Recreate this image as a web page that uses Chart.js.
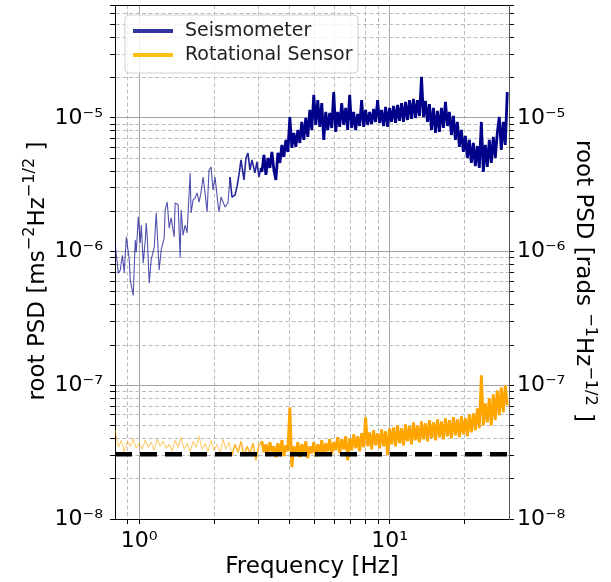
<!DOCTYPE html>
<html><head><meta charset="utf-8">
<script src="https://cdn.jsdelivr.net/npm/chart.js@4.4.1/dist/chart.umd.min.js"></script>
<style>html,body{margin:0;padding:0;background:#fff;}canvas{display:block;}</style>
</head><body>
<canvas id="c" width="611" height="582"></canvas>
<script>
// ---------------- data ----------------
const seriesLabels = ['Seismometer', 'Rotational Sensor'];

const seisFreq = [
 0.802,0.825,0.840,0.856,0.871,0.888,0.912,0.921,0.946,0.964,0.973,0.991,1.009,1.019,1.037,1.057,1.066,1.076,1.096,1.116,
 1.148,1.169,1.201,1.224,1.258,1.269,1.293,1.317,1.341,1.378,1.391,1.430,1.457,1.470,1.497,1.525,1.553,1.597,1.611,1.641,
 1.671,1.702,1.734,1.766,1.799,1.832,1.866,1.900,1.936,1.971,2.008,2.064,2.084,2.122,2.161,2.201,2.262,2.304,2.347,2.413,
 2.457,2.502,2.549,2.620,2.669,2.718,2.768,2.820,2.898,2.952,3.007,3.063,
 3.091,3.148,3.206,3.266,3.326,3.388,3.450,3.514,3.579,3.646,3.713,3.782,3.852,3.923,3.996,4.070,4.145,4.222,4.300,4.380,
 4.461,4.543,4.628,4.713,4.801,4.889,4.980,5.072,5.166,5.262,5.359,5.458,5.559,5.662,5.767,5.874,5.982,6.093,6.206,6.321,
 6.438,6.557,6.678,6.802,6.928,7.056,7.187,7.320,7.455,7.593,7.734,7.877,8.023,8.172,8.323,8.477,8.634,8.794,8.957,9.123,
 9.292,9.464,9.639,9.818,10.0,10.185,10.374,10.566,10.762,10.961,11.164,11.371,11.581,11.796,12.014,12.237,12.463,12.694,12.929,13.169,
 13.413,13.661,13.914,14.172,14.434,14.702,14.974,15.251,15.534,15.821,16.114,16.413,16.717,17.026,17.342,17.663,17.990,18.323,18.662,19.008,
 19.360,19.718,20.084,20.456,20.834,21.220,21.613,22.013,22.421,22.836,23.259,23.690,24.129,24.575,25.030,25.494,25.966,26.447,26.937,27.436,
 27.944,28.461,28.988,29.525
];
const seisVal = [
 1.12e-6,6.9e-7,7.3e-7,9.4e-7,7.0e-7,1.29e-6,8.7e-7,6.1e-7,4.7e-7,1.22e-6,9.9e-7,1.82e-6,1.16e-6,1.58e-6,8.2e-7,1.22e-6,1.64e-6,1.29e-6,5.8e-7,8.7e-7,
 1.08e-6,1.95e-6,7.3e-7,1.03e-6,1.27e-6,2.05e-6,2.35e-6,1.50e-6,1.79e-6,1.29e-6,2.31e-6,2.24e-6,9.0e-7,2.05e-6,1.33e-6,1.58e-6,1.38e-6,3.88e-6,1.95e-6,2.44e-6,
 2.52e-6,2.75e-6,2.35e-6,2.80e-6,3.62e-6,2.75e-6,1.98e-6,4.08e-6,4.30e-6,2.89e-6,3.62e-6,2.24e-6,1.98e-6,2.56e-6,2.35e-6,2.16e-6,2.31e-6,3.62e-6,2.56e-6,2.65e-6,
 3.05e-6,3.75e-6,4.85e-6,3.44e-6,5.02e-6,5.47e-6,4.08e-6,4.85e-6,3.88e-6,4.69e-6,3.62e-6,4.23e-6,
 3.95e-6,5.29e-6,3.75e-6,5.02e-6,4.23e-6,5.57e-6,4.09e-6,3.44e-6,5.48e-6,4.61e-6,6.28e-6,5.11e-6,6.85e-6,5.57e-6,1.017e-5,5.97e-6,7.73e-6,6.07e-6,8.13e-6,6.50e-6,
 9.34e-6,6.85e-6,1.0e-5,7.21e-6,1.15e-5,8.13e-6,1.49e-5,8.87e-6,1.36e-5,8.57e-6,1.29e-5,6.85e-6,1.11e-5,8.13e-6,1.09e-5,8.42e-6,1.56e-5,7.86e-6,1.11e-5,8.57e-6,
 1.29e-5,8.87e-6,1.19e-5,8.13e-6,1.49e-5,8.42e-6,1.11e-5,8.13e-6,1.07e-5,8.71e-6,1.36e-5,8.57e-6,1.15e-5,8.87e-6,1.11e-5,9.02e-6,1.17e-5,9.34e-6,1.36e-5,9.18e-6,
 1.15e-5,8.71e-6,1.21e-5,8.57e-6,1.19e-5,9.34e-6,1.23e-5,9.18e-6,1.25e-5,9.50e-6,1.29e-5,9.34e-6,1.32e-5,9.66e-6,1.36e-5,9.83e-6,1.39e-5,1.0e-5,1.36e-5,1.035e-5,
 2.03e-5,1.017e-5,1.34e-5,9.34e-6,1.27e-5,8.13e-6,1.19e-5,7.73e-6,1.13e-5,7.86e-6,1.19e-5,8.42e-6,1.32e-5,8.71e-6,1.11e-5,7.46e-6,1.035e-5,6.85e-6,9.34e-6,6.07e-6,
 8.13e-6,5.57e-6,7.34e-6,5.02e-6,6.85e-6,4.61e-6,6.50e-6,4.37e-6,6.17e-6,4.23e-6,9.34e-6,3.95e-6,6.28e-6,4.30e-6,6.85e-6,4.61e-6,7.21e-6,5.02e-6,7.73e-6,1.017e-5,
 5.77e-6,9.34e-6,6.28e-6,1.56e-5
];

const rotFreq = [
 0.802,0.825,0.848,0.871,0.896,0.921,0.946,0.973,1.000,1.028,1.057,1.086,1.116,1.148,1.180,1.212,1.246,1.281,1.317,1.354,
 1.391,1.430,1.470,1.511,1.553,1.597,1.641,1.687,1.734,1.782,1.832,1.883,1.936,1.990,2.046,2.103,2.161,2.222,2.284,2.347,
 2.413,2.480,2.549,2.620,2.694,2.768,2.846,2.925,3.007,
 3.091,3.148,3.206,3.266,3.326,3.388,3.450,3.514,3.579,3.646,3.713,3.782,3.852,3.923,3.996,4.070,4.145,4.222,4.300,4.380,
 4.461,4.543,4.628,4.713,4.801,4.889,4.980,5.072,5.166,5.262,5.359,5.458,5.559,5.662,5.767,5.874,5.982,6.093,6.206,6.321,
 6.438,6.557,6.678,6.802,6.928,7.056,7.187,7.320,7.455,7.593,7.734,7.877,8.023,8.172,8.323,8.477,8.634,8.794,8.957,9.123,
 9.292,9.464,9.639,9.818,10.0,10.185,10.374,10.566,10.762,10.961,11.164,11.371,11.581,11.796,12.014,12.237,12.463,12.694,12.929,13.169,
 13.413,13.661,13.914,14.172,14.434,14.702,14.974,15.251,15.534,15.821,16.114,16.413,16.717,17.026,17.342,17.663,17.990,18.323,18.662,19.008,
 19.360,19.718,20.084,20.456,20.834,21.220,21.613,22.013,22.421,22.836,23.259,23.690,24.129,24.575,25.030,25.494,25.966,26.447,26.937,27.436,
 27.944,28.461,28.988,29.525
];
const rotVal = [
 4.61e-8,3.44e-8,3.88e-8,3.16e-8,3.81e-8,3.50e-8,4.02e-8,3.38e-8,3.69e-8,3.32e-8,3.88e-8,3.44e-8,3.75e-8,3.27e-8,3.95e-8,3.50e-8,3.81e-8,3.38e-8,3.62e-8,3.21e-8,
 3.88e-8,3.44e-8,4.09e-8,3.32e-8,3.69e-8,3.16e-8,3.81e-8,3.44e-8,4.16e-8,3.32e-8,3.69e-8,3.21e-8,3.88e-8,3.27e-8,3.62e-8,3.10e-8,3.95e-8,3.32e-8,3.75e-8,3.00e-8,
 3.62e-8,3.16e-8,3.81e-8,2.95e-8,3.50e-8,3.10e-8,3.69e-8,2.75e-8,3.56e-8,
 3.81e-8,3.16e-8,3.62e-8,3.00e-8,3.75e-8,3.21e-8,3.50e-8,2.90e-8,3.69e-8,3.10e-8,3.88e-8,2.95e-8,3.56e-8,3.21e-8,6.85e-8,2.44e-8,3.50e-8,3.00e-8,3.75e-8,2.90e-8,
 3.62e-8,3.16e-8,3.81e-8,2.85e-8,3.50e-8,3.10e-8,3.75e-8,2.95e-8,3.62e-8,3.05e-8,3.88e-8,3.00e-8,3.69e-8,3.21e-8,3.95e-8,3.05e-8,3.75e-8,3.27e-8,4.09e-8,3.10e-8,
 3.95e-8,3.32e-8,4.16e-8,2.75e-8,4.02e-8,3.27e-8,4.30e-8,3.38e-8,4.16e-8,3.21e-8,4.38e-8,3.44e-8,5.77e-8,3.50e-8,4.45e-8,3.32e-8,4.61e-8,3.56e-8,4.38e-8,3.38e-8,
 4.69e-8,3.50e-8,4.53e-8,3.00e-8,4.77e-8,3.62e-8,4.85e-8,3.50e-8,5.02e-8,3.69e-8,4.77e-8,3.56e-8,5.11e-8,3.81e-8,4.94e-8,3.62e-8,5.29e-8,3.88e-8,5.02e-8,3.75e-8,
 5.38e-8,3.95e-8,5.20e-8,3.81e-8,5.48e-8,4.02e-8,5.29e-8,3.88e-8,5.57e-8,4.09e-8,5.38e-8,3.95e-8,5.67e-8,4.16e-8,5.48e-8,4.02e-8,5.77e-8,4.23e-8,5.57e-8,4.09e-8,
 5.87e-8,4.30e-8,5.67e-8,4.16e-8,6.07e-8,4.45e-8,6.17e-8,4.61e-8,6.73e-8,4.77e-8,1.19e-7,5.02e-8,7.34e-8,5.29e-8,8.01e-8,5.02e-8,8.57e-8,5.48e-8,9.18e-8,5.97e-8,
 9.66e-8,6.28e-8,1.0e-7,7.09e-8
];

const floorFreq = [0.8, 30];
const floorVal = [3.05e-8, 3.05e-8];

const xLimits = [0.8, 30];
const yLimits = [1e-8, 7e-5];
const xMajorTicks = [1, 10];
const xMajorLabels = ['10\u2070', '10\u00b9'];
const xMinorTicks = [0.9, 2, 3, 4, 5, 6, 7, 8, 9, 20];
const yMajorTicks = [1e-8, 1e-7, 1e-6, 1e-5];
const yMajorLabels = ['10\u207b\u2078', '10\u207b\u2077', '10\u207b\u2076', '10\u207b\u2075'];
const yMinorTicks = [2e-8,3e-8,4e-8,5e-8,6e-8,7e-8,8e-8,9e-8,
                     2e-7,3e-7,4e-7,5e-7,6e-7,7e-7,8e-7,9e-7,
                     2e-6,3e-6,4e-6,5e-6,6e-6,7e-6,8e-6,9e-6,
                     2e-5,3e-5,4e-5,5e-5,6e-5,7e-5];
const xTitle = [{t:'Frequency [Hz]'}];
const yTitleLeft = [{t:'root PSD [ms'},{t:'\u22122',sup:true},{t:'Hz'},{t:'\u22121/2',sup:true},{t:' ]'}];
const yTitleRight = [{t:'root PSD [rads '},{t:'\u22121',sup:true},{t:'Hz'},{t:'\u22121/2',sup:true},{t:' ]'}];

// ---------------- helpers ----------------
const FONT = "'DejaVu Sans', sans-serif";
const pts = (xs, ys) => xs.map((x, i) => ({x: x, y: ys[i]}));
const near = (v, arr) => arr.findIndex(m => Math.abs(m - v) / m < 1e-6);
const buildTicks = (maj, min) => s => {
  s.ticks = maj.concat(min).sort((a, b) => a - b).map(v => ({value: v, major: near(v, maj) >= 0}));
};
const labelCb = (maj, labels) => v => { const i = near(v, maj); return i >= 0 ? labels[i] : ''; };
const gridColor = maj => c => (c.tick && near(c.tick.value, maj) >= 0) ? '#a4a4a4' : '#bcbcbc';
const gridDash = maj => c => (c.tick && near(c.tick.value, maj) < 0) ? [4, 2.5] : [];
const noPad = s => { s.paddingTop = 0; s.paddingBottom = 0; s.paddingLeft = 0; s.paddingRight = 0; };
// line styling by frequency band (sparse low-frequency part drawn thinner / lighter)
const segColor = (light, mid) => c => c.p0.parsed.x < 2.3 ? light : (c.p0.parsed.x < 3.05 ? mid : undefined);
const segWidth = c => c.p0.parsed.x < 2.3 ? 1.1 : (c.p0.parsed.x < 3.05 ? 1.6 : undefined);

function drawRich(ctx, parts, x, y, angle, size) {
  ctx.save();
  ctx.translate(x, y);
  ctx.rotate(angle);
  let total = 0;
  const ws = parts.map(p => { ctx.font = (p.sup ? size * 0.7 : size) + 'px ' + FONT; const w = ctx.measureText(p.t).width; total += w; return w; });
  let cx = -total / 2;
  ctx.fillStyle = '#000';
  ctx.textAlign = 'left';
  ctx.textBaseline = 'alphabetic';
  parts.forEach((p, i) => {
    ctx.font = (p.sup ? size * 0.7 : size) + 'px ' + FONT;
    ctx.fillText(p.t, cx, p.sup ? -size * 0.4 : 0);
    cx += ws[i];
  });
  ctx.restore();
}

const decorPlugin = {
  id: 'decor',
  afterDraw(chart) {
    const ctx = chart.ctx, a = chart.chartArea;
    ctx.save();
    ctx.strokeStyle = '#000'; ctx.lineWidth = 1;
    ctx.beginPath(); ctx.moveTo(a.left, a.top + 0.5); ctx.lineTo(a.right, a.top + 0.5); ctx.stroke();
    ctx.restore();
    drawRich(ctx, xTitle, (a.left + a.right) / 2, 573, 0, 23);
    drawRich(ctx, yTitleLeft, 43.5, 271, -Math.PI / 2, 23);
    drawRich(ctx, yTitleRight, 577, 281, Math.PI / 2, 23);
    const lx = a.left + 10, ly = a.top + 10, lw = 233, lh = 58, r = 4;
    ctx.save();
    ctx.beginPath();
    ctx.moveTo(lx + r, ly); ctx.lineTo(lx + lw - r, ly); ctx.arcTo(lx + lw, ly, lx + lw, ly + r, r);
    ctx.lineTo(lx + lw, ly + lh - r); ctx.arcTo(lx + lw, ly + lh, lx + lw - r, ly + lh, r);
    ctx.lineTo(lx + r, ly + lh); ctx.arcTo(lx, ly + lh, lx, ly + lh - r, r);
    ctx.lineTo(lx, ly + r); ctx.arcTo(lx, ly, lx + r, ly, r); ctx.closePath();
    ctx.fillStyle = 'rgba(255,255,255,0.8)'; ctx.fill();
    ctx.strokeStyle = '#d0d0d0'; ctx.lineWidth = 1; ctx.stroke();
    const items = [
      {label: chart.data.datasets[0].label, color: 'rgba(0,0,139,0.8)', y: ly + 16},
      {label: chart.data.datasets[1].label, color: '#ffc01a', y: ly + 40}
    ];
    items.forEach(it => {
      ctx.strokeStyle = it.color; ctx.lineWidth = 4; ctx.lineCap = 'butt';
      ctx.beginPath(); ctx.moveTo(lx + 8, it.y); ctx.lineTo(lx + 48, it.y); ctx.stroke();
      ctx.fillStyle = '#222'; ctx.font = '19px ' + FONT; ctx.textAlign = 'left'; ctx.textBaseline = 'middle';
      ctx.fillText(it.label, lx + 60, it.y);
    });
    ctx.restore();
  }
};

const tickFont = {family: FONT, size: 22};

new Chart(document.getElementById('c'), {
  type: 'line',
  data: {
    datasets: [
      {label: seriesLabels[0], data: pts(seisFreq, seisVal), borderColor: '#00008b', borderWidth: 2.8,
       pointRadius: 0, tension: 0, order: 1, borderJoinStyle: 'bevel',
       segment: {borderColor: segColor('rgba(0,0,139,0.68)', 'rgba(0,0,139,0.85)'), borderWidth: segWidth}},
      {label: seriesLabels[1], data: pts(rotFreq, rotVal), borderColor: '#ffa500', borderWidth: 2.8,
       pointRadius: 0, tension: 0, order: 2, borderJoinStyle: 'bevel',
       segment: {borderColor: segColor('rgba(255,165,0,0.55)', 'rgba(255,165,0,0.8)'), borderWidth: segWidth}},
      {label: 'floor', data: pts(floorFreq, floorVal), borderColor: '#000', borderWidth: 4.5,
       borderDash: [17, 8], pointRadius: 0, order: 0}
    ]
  },
  options: {
    responsive: false, animation: false, devicePixelRatio: 1,
    layout: {padding: {top: 5, left: 0, right: 0, bottom: 0}},
    plugins: {legend: {display: false}, tooltip: {enabled: false}},
    scales: {
      x: {
        type: 'logarithmic', position: 'bottom', min: xLimits[0], max: xLimits[1],
        afterBuildTicks: buildTicks(xMajorTicks, xMinorTicks),
        afterFit: s => { s.height = 63; noPad(s); },
        ticks: {autoSkip: false, maxRotation: 0, minRotation: 0, padding: 4, color: '#000', font: tickFont,
                callback: labelCb(xMajorTicks, xMajorLabels)},
        grid: {color: gridColor(xMajorTicks), lineWidth: 1, tickLength: 5, tickColor: '#000', tickWidth: 1, tickBorderDash: []},
        border: {display: true, color: '#000', width: 1, dash: gridDash(xMajorTicks)}
      },
      y: {
        type: 'logarithmic', position: 'left', min: yLimits[0], max: yLimits[1],
        afterBuildTicks: buildTicks(yMajorTicks, yMinorTicks),
        afterFit: s => { s.width = 115; noPad(s); },
        ticks: {autoSkip: false, padding: 7, color: '#000', font: tickFont,
                callback: labelCb(yMajorTicks, yMajorLabels)},
        grid: {color: gridColor(yMajorTicks), lineWidth: 1, tickLength: 5, tickColor: '#000', tickWidth: 1, tickBorderDash: []},
        border: {display: true, color: '#000', width: 1, dash: gridDash(yMajorTicks)}
      },
      y2: {
        type: 'logarithmic', position: 'right', min: yLimits[0], max: yLimits[1],
        afterBuildTicks: buildTicks(yMajorTicks, yMinorTicks),
        afterFit: s => { s.width = 102; noPad(s); },
        ticks: {autoSkip: false, padding: 3, color: '#000', font: tickFont,
                callback: labelCb(yMajorTicks, yMajorLabels)},
        grid: {drawOnChartArea: false, tickLength: 5, tickColor: '#000', tickWidth: 1, tickBorderDash: []},
        border: {display: true, color: '#555', width: 1}
      }
    }
  },
  plugins: [decorPlugin]
});
</script>
</body></html>
